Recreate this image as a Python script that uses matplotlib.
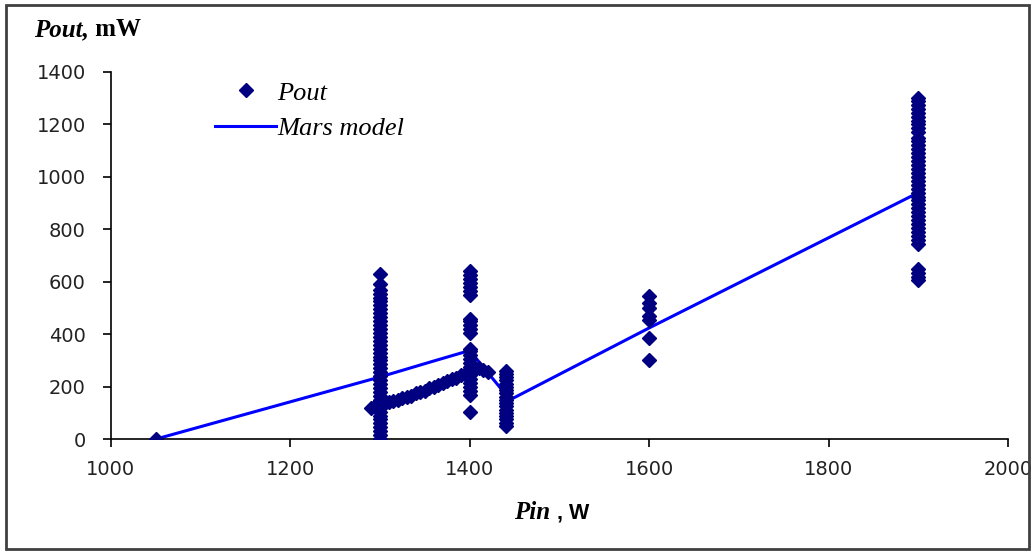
import matplotlib
matplotlib.use("Agg")
import matplotlib.pyplot as plt
from matplotlib.patches import Rectangle

# Measured output power (scatter), grouped by input power
pin_1050 = [1050]
pout_1050 = [0]

pout_1300 = [0, 15, 30, 45, 60, 75, 90, 105, 120, 135, 150, 165, 180, 195, 210,
             225, 240, 255, 270, 285, 300, 315, 330, 345, 360, 375, 390, 405,
             420, 435, 450, 465, 480, 495, 510, 525, 540, 555, 570, 590, 630]
pin_sweep = [1290, 1295, 1305, 1310, 1315, 1320, 1325, 1330, 1335, 1340, 1345,
             1350, 1355, 1360, 1365, 1370, 1375, 1380, 1385, 1390, 1395, 1405,
             1410, 1415, 1420]
pout_sweep = [120, 125, 135, 140, 145, 150, 155, 160, 165, 175, 180, 185, 195,
              200, 205, 215, 220, 230, 235, 245, 250, 265, 270, 262, 255]
pout_1400 = [105, 170, 185, 200, 215, 230, 245, 260, 275, 290, 305, 320, 335,
             345, 405, 420, 435, 450, 460, 550, 565, 580, 595, 610, 625, 640]
pout_1441 = [50, 62, 75, 88, 100, 112, 125, 138, 150, 162, 175, 188, 200, 212,
             225, 238, 250, 260]
pout_1600 = [300, 385, 455, 470, 500, 520, 545]
pout_1900 = [605, 620, 635, 650, 745, 760, 775, 790, 805, 820, 835, 850, 865,
             880, 895, 910, 925, 940, 955, 970, 985, 1000, 1015, 1030, 1045,
             1060, 1075, 1090, 1105, 1120, 1135, 1150, 1170, 1185, 1200, 1215,
             1230, 1245, 1260, 1275, 1290, 1300]

# Mars model curve
model_pin = [1050, 1300, 1360, 1400, 1445, 1600, 1900]
model_pout = [0, 237, 298, 338, 150, 424, 940]

pin_all = (pin_1050 + [1300] * len(pout_1300) + pin_sweep + [1400] * len(pout_1400)
           + [1441] * len(pout_1441) + [1600] * len(pout_1600) + [1900] * len(pout_1900))
pout_all = pout_1050 + pout_1300 + pout_sweep + pout_1400 + pout_1441 + pout_1600 + pout_1900

serif = 'Liberation Serif'

fig = plt.figure(figsize=(10.35, 5.58), dpi=100)
ax = fig.add_axes([0.107, 0.213, 0.867, 0.658])

ax.plot(pin_all, pout_all, linestyle='none', marker='D', markersize=7,
        color='#000080', label='Pout', zorder=3)
ax.plot(model_pin, model_pout, color='#0000FF', linewidth=2.2,
        label='Mars model', zorder=2)

ax.set_xlim(1000, 2000)
ax.set_ylim(0, 1400)
ax.set_xticks(range(1000, 2001, 200))
ax.set_yticks(range(0, 1401, 200))
for lab in ax.get_xticklabels() + ax.get_yticklabels():
    lab.set_fontfamily('DejaVu Sans')
    lab.set_fontsize(14)
    lab.set_color('#222222')
ax.tick_params(axis='y', direction='out', length=6, width=1.2, pad=12)
ax.tick_params(axis='x', direction='out', length=6, width=1.2, pad=9)
ax.spines['top'].set_visible(False)
ax.spines['right'].set_visible(False)
for s in ['left', 'bottom']:
    ax.spines[s].set_linewidth(1.2)

leg = ax.legend(loc='upper left', bbox_to_anchor=(0.09, 1.04), frameon=False,
                prop={'family': serif, 'style': 'italic', 'size': 19},
                handlelength=2.3, handletextpad=0.05, labelspacing=0.45)

# axis titles
t1 = fig.text(0.033, 0.935, 'Pout,', family=serif, style='italic',
              weight='bold', size=18, va='baseline')
ax.annotate(' mW', xy=(1, 0), xycoords=t1, va='bottom', family=serif,
            weight='bold', size=18)
t2 = fig.text(0.497, 0.07, 'Pin', family=serif, style='italic',
              weight='bold', size=18, va='baseline')
ax.annotate(' , W', xy=(1, 0), xycoords=t2, va='bottom', family='Liberation Sans',
            weight='bold', size=15.5)

fig.patches.append(Rectangle((0.006, 0.016), 0.988, 0.975, transform=fig.transFigure,
                             fill=False, edgecolor='#404040', linewidth=2))

fig.savefig('out.png', dpi=100)
